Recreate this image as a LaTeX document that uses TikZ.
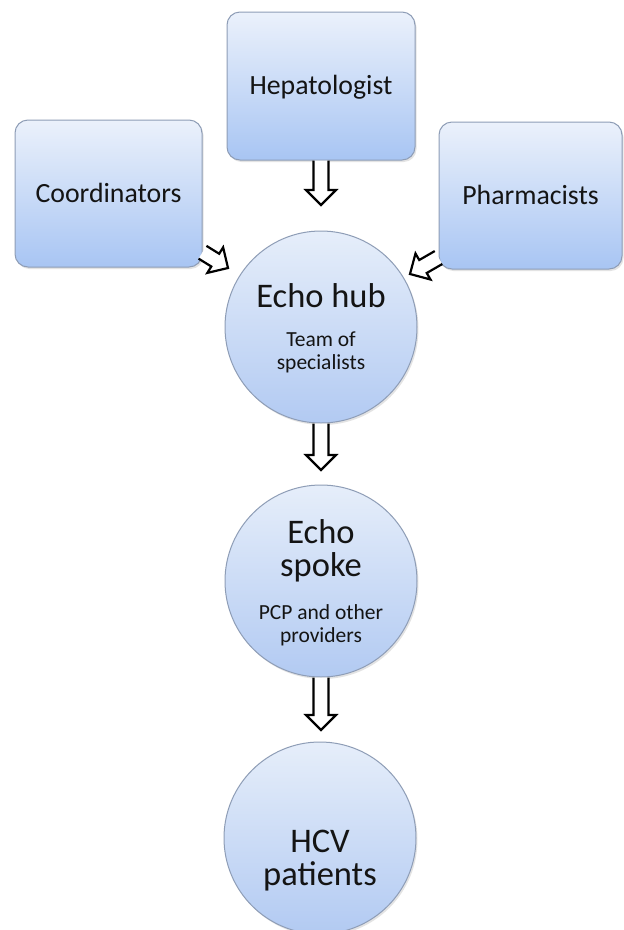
\documentclass[tikz,border=0pt]{standalone}
\usepackage{fontspec}
\setmainfont{Carlito}
\usetikzlibrary{calc,shadows}
\definecolor{boxtop}{HTML}{EBF1FB}
\definecolor{boxbot}{HTML}{A8C5F3}
\definecolor{disctop}{HTML}{E6EEFA}
\definecolor{discbot}{HTML}{B2CAF2}
\definecolor{edgecol}{HTML}{8E9DB6}
\definecolor{txtcol}{HTML}{141414}
\tikzset{
  panel/.style={draw=edgecol, line width=1pt, rounded corners=13pt,
    top color=boxtop, bottom color=boxbot, inner sep=0pt,
    text height=17pt, text depth=0pt, text=txtcol,
    font=\fontsize{27.8}{30}\selectfont,
    drop shadow={shadow xshift=1.5pt, shadow yshift=-2pt, opacity=0.22}},
  disc/.style={circle, draw=edgecol, line width=1pt,
    top color=disctop, bottom color=discbot, minimum size=192pt, inner sep=0pt,
    drop shadow={shadow xshift=1.5pt, shadow yshift=-2pt, opacity=0.22}},
  bigtxt/.style={anchor=base, inner sep=0pt, text=txtcol, font=\fontsize{34.5}{36}\selectfont},
  smalltxt/.style={anchor=base, inner sep=0pt, text=txtcol, font=\fontsize{21.5}{23}\selectfont},
  hollow/.style={draw=black, line width=2.2pt, line join=miter, fill=white}
}
\newcommand{\hollowarrow}[2]{%
  \coordinate (hb) at ($(#2)!15pt!(#1)$);
  \draw[hollow] ($(#1)!7.5pt!90:(#2)$) -- ($(hb)!7.5pt!90:(#2)$) -- ($(hb)!15pt!90:(#2)$)
    -- (#2) -- ($(hb)!15pt!-90:(#2)$) -- ($(hb)!7.5pt!-90:(#2)$) -- ($(#1)!7.5pt!-90:(#2)$);
}
\begin{document}
\begin{tikzpicture}[x=1pt,y=-1pt]
\fill[white] (0,0) rectangle (624,930);
\useasboundingbox (0,0) rectangle (624,930);

% boxes
\node[panel, minimum width=188pt, minimum height=148pt] (hep) at (321,86) {Hepatologist};
\node[panel, minimum width=187pt, minimum height=147pt] (coord) at (108.5,193.5) {Coordinators};
\node[panel, minimum width=183pt, minimum height=147pt] (pharm) at (530.5,195.5) {Pharmacists};

% circles
\node[disc] (hub) at (321,327) {};
\node[disc] (spoke) at (321,581) {};
\node[disc] (hcv) at (320,838) {};

% circle texts
\node[bigtxt] (hubA) at (321,307) {Echo hub};
\node[smalltxt] (hubB) at (321,346) {Team of};
\node[smalltxt] (hubC) at (321,369) {specialists};

\node[bigtxt] (spokeA) at (321,543) {Echo};
\node[bigtxt] (spokeB) at (321,576) {spoke};
\node[smalltxt] (spokeC) at (321,619) {PCP and other};
\node[smalltxt] (spokeD) at (321,642) {providers};

\node[bigtxt] (hcvA) at (320,852) {HCV};
\node[bigtxt] (hcvB) at (320,885) {patients};

% arrow tips
\coordinate (tipA) at (321,205);
\coordinate (tipB) at (228,268);
\coordinate (tipC) at (410,274);
\coordinate (tipD) at (321,470);
\coordinate (tipE) at (321,730);

\hollowarrow{hep.south}{tipA}
\hollowarrow{coord.-32}{tipB}
\hollowarrow{pharm.214}{tipC}
\hollowarrow{hub.south}{tipD}
\hollowarrow{spoke.south}{tipE}
\end{tikzpicture}
\end{document}
